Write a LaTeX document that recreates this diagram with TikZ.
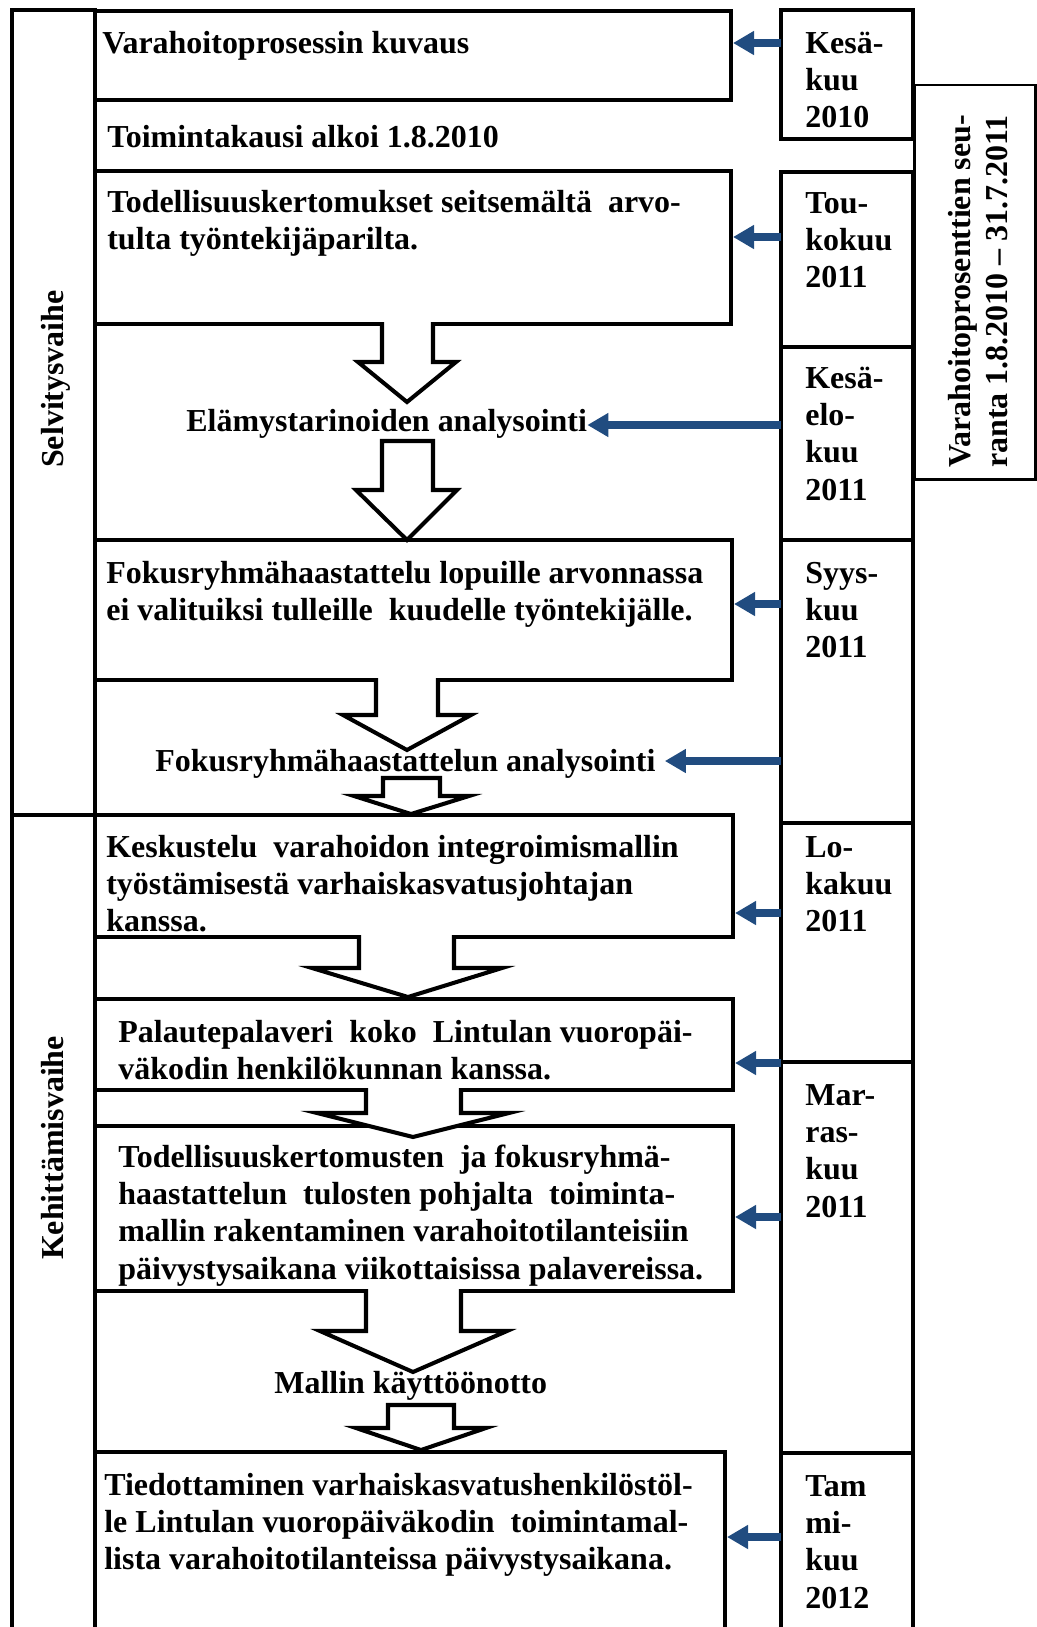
\documentclass[tikz,border=0pt]{standalone}
\usepackage{fontspec}
\setmainfont{Liberation Serif}
\usetikzlibrary{arrows.meta,fit}
\definecolor{arrowblue}{RGB}{33,76,128}

% multi-line left-aligned text whose baseline is the first line
\newcommand\lns[1]{\begin{tabular}[t]{@{}l@{}}#1\end{tabular}}

% hollow block arrow whose top is open into the box above
% #1 shaft left, #2 shaft right, #3 wing left, #4 wing right, #5 tip x,
% #6 shaft top, #7 wing level, #8 tip y
\newcommand\openblockarrow[8]{%
  \fill[white] (#1,#6-3) -- (#1,#7) -- (#3,#7) -- (#5,#8) -- (#4,#7) -- (#2,#7) -- (#2,#6-3) -- cycle;
  \draw[blockline] (#1,#6-2) -- (#1,#7) -- (#3,#7) -- (#5,#8) -- (#4,#7) -- (#2,#7) -- (#2,#6-2);
}
% hollow block arrow with a closed top
\newcommand\closedblockarrow[8]{%
  \filldraw[blockline, fill=white] (#1,#6) -- (#1,#7) -- (#3,#7) -- (#5,#8) -- (#4,#7) -- (#2,#7) -- (#2,#6) -- cycle;
}

\tikzset{
  frame/.style={draw, line width=2.3pt, inner sep=0pt},
  thinframe/.style={draw, line width=1.7pt, inner sep=0pt},
  blockline/.style={line width=2.3pt, line join=miter, miter limit=20},
  txt/.style={anchor=base west, inner sep=0pt, font=\fontsize{18.2}{21.3}\selectfont\bfseries},
  phaselbl/.style={anchor=base, rotate=90, inner sep=0pt, font=\fontsize{18.2}{21.3}\selectfont\bfseries},
  bluearr/.style={draw=arrowblue, line width=4.3pt, -{Triangle[length=12pt,width=13pt]}}
}

\begin{document}
\begin{tikzpicture}[x=0.02cm, y=-0.02cm]
\useasboundingbox (0,0) rectangle (1037,1627);
\clip (0,0) rectangle (1037,1627);

% phase column on the left
\node[frame, fit={(12,10) (95,815)}] (phase1) {};
\node[frame, fit={(12,815) (95,1660)}] (phase2) {};
\node[phaselbl] (phase1lbl) at (63,379) {Selvitysvaihe};
\node[phaselbl] (phase2lbl) at (63,1148) {Kehittämisvaihe};

% process boxes
\node[frame, fit={(95,11) (731,100)}] (b1) {};
\node[frame, fit={(95,171) (731,324)}] (b2) {};
\node[frame, fit={(95,540) (732,680)}] (b3) {};
\node[frame, fit={(95,815) (733,937)}] (b4) {};
\node[frame, fit={(95,999) (733,1090)}] (b5) {};
\node[frame, fit={(95,1126) (733,1291)}] (b6) {};
\node[frame, fit={(95,1452) (725,1660)}] (b7) {};

% month column
\node[frame, fit={(781,10) (913,139)}] (m1) {};
\node[frame, fit={(781,172) (913,347)}] (m2) {};
\node[frame, fit={(781,347) (913,540)}] (m3) {};
\node[frame, fit={(781,540) (913,823)}] (m4) {};
\node[frame, fit={(781,823) (913,1062)}] (m5) {};
\node[frame, fit={(781,1062) (913,1453)}] (m6) {};
\node[frame, fit={(781,1453) (913,1660)}] (m7) {};

% follow-up period box
\node[thinframe, fit={(914,85) (1035,479)}] (follow) {};

% block arrows between the steps
\openblockarrow{382}{433}{358}{456}{407}{324}{362}{402}
\closedblockarrow{382}{433}{356}{457}{407}{441}{490}{540}
\openblockarrow{376}{438}{343}{471}{407}{680}{715}{750}
\closedblockarrow{383}{440}{354}{469}{411}{778}{796}{814}
\openblockarrow{359}{454}{312}{502}{408}{937}{968}{997}
\openblockarrow{366}{461}{317}{509}{413}{1090}{1113}{1137}
\openblockarrow{366}{461}{320}{507}{413}{1291}{1331}{1372}
\closedblockarrow{388}{454}{356}{486}{421}{1405}{1428}{1450}

% step texts
\node[txt] (t1) at (102,53) {Varahoitoprosessin kuvaus};
\node[txt] (t0) at (107,147) {Toimintakausi alkoi 1.8.2010};
\node[txt] (t2) at (107,212) {\lns{Todellisuuskertomukset seitsemältä\ \ arvo-\\tulta työntekijäparilta.}};
\node[txt] (elam) at (186,431) {Elämystarinoiden analysointi};
\node[txt] (t3) at (106,583) {\lns{Fokusryhmähaastattelu lopuille arvonnassa\\ei valituiksi tulleille\ \ kuudelle työntekijälle.}};
\node[txt] (fan) at (155,771) {Fokusryhmähaastattelun analysointi};
\node[txt] (t4) at (106,857) {\lns{Keskustelu\ \ varahoidon integroimismallin\\työstämisestä varhaiskasvatusjohtajan\\kanssa.}};
\node[txt] (t5) at (118,1042) {\lns{Palautepalaveri\ \ koko\ \ Lintulan vuoropäi-\\väkodin henkilökunnan kanssa.}};
\node[txt] (t6) at (118,1167) {\lns{Todellisuuskertomusten\ \ ja fokusryhmä-\\haastattelun\ \ tulosten pohjalta\ \ toiminta-\\mallin rakentaminen varahoitotilanteisiin\\päivystysaikana viikottaisissa palavereissa.}};
\node[txt] (mal) at (274,1393) {Mallin käyttöönotto};
\node[txt] (t7) at (104,1495) {\lns{Tiedottaminen varhaiskasvatushenkilöstöl-\\le Lintulan vuoropäiväkodin\ \ toimintamal-\\lista varahoitotilanteissa päivystysaikana.}};

% month texts
\node[txt] (m1t) at (805,53) {\lns{Kesä-\\kuu\\2010}};
\node[txt] (m2t) at (805,213) {\lns{Tou-\\kokuu\\2011}};
\node[txt] (m3t) at (805,388) {\lns{Kesä-\\elo-\\kuu\\2011}};
\node[txt] (m4t) at (805,583) {\lns{Syys-\\kuu\\2011}};
\node[txt] (m5t) at (805,857) {\lns{Lo-\\kakuu\\2011}};
\node[txt] (m6t) at (805,1105) {\lns{Mar-\\ras-\\kuu\\2011}};
\node[txt] (m7t) at (805,1496) {\lns{Tam\\mi-\\kuu\\2012}};

% follow-up period text, read from bottom to top
\node[txt, rotate=90] (followt) at (970,468) {\lns{Varahoitoprosenttien seu-\\ranta 1.8.2010 -- 31.7.2011}};

% month pointers
\coordinate (a1) at (781,43);
\coordinate (a2) at (781,237);
\coordinate (a3) at (781,425);
\coordinate (a4) at (781,604);
\coordinate (a5) at (781,761);
\coordinate (a6) at (781,913);
\coordinate (a7) at (781,1063);
\coordinate (a8) at (781,1217);
\coordinate (a9) at (781,1537);
\coordinate (fanend) at ([xshift=0.18cm]fan.east);
\draw[bluearr] (a1) -- (a1 -| b1.east);
\draw[bluearr] (a2) -- (a2 -| b2.east);
\draw[bluearr] (a3) -- (a3 -| elam.east);
\draw[bluearr] (a4) -- (a4 -| b3.east);
\draw[bluearr] (a5) -- (a5 -| fanend);
\draw[bluearr] (a6) -- (a6 -| b4.east);
\draw[bluearr] (a7) -- (a7 -| b5.east);
\draw[bluearr] (a8) -- (a8 -| b6.east);
\draw[bluearr] (a9) -- (a9 -| b7.east);
\end{tikzpicture}
\end{document}
